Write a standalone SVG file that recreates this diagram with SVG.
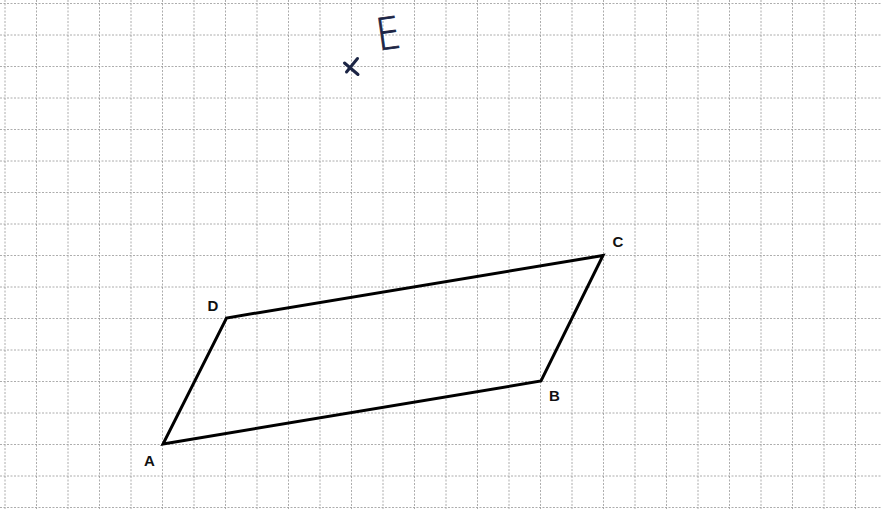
<svg xmlns="http://www.w3.org/2000/svg" width="882" height="509" viewBox="0 0 882 509">
<style>
.grid{fill:none;stroke:#8a8a8a;stroke-width:1;stroke-dasharray:2 1.5;opacity:0.7}
.shape{fill:none;stroke:#000;stroke-width:3;stroke-linejoin:miter}
.lbl{font-family:"Liberation Sans",Arial,sans-serif;font-weight:bold;font-size:15px;fill:#111;text-anchor:middle}
.hand{fill:none;stroke:#1b2444;stroke-width:3;stroke-linecap:round}
</style>
<rect width="882" height="509" fill="#fff"/>
<g id="grid">
<path class="grid" d="M5 0V509M36.5 0V509M68 0V509M99.5 0V509M131 0V509M162.5 0V509M194 0V509M225.5 0V509M257 0V509M288.5 0V509M320 0V509M351.5 0V509M383 0V509M414.5 0V509M446 0V509M477.5 0V509M509 0V509M540.5 0V509M572 0V509M603.5 0V509M635 0V509M666.5 0V509M698 0V509M729.5 0V509M761 0V509M792.5 0V509M824 0V509M855.5 0V509"/>
<path class="grid" d="M0 3.5H882M0 35H882M0 66.5H882M0 98H882M0 129.5H882M0 161H882M0 192.5H882M0 224H882M0 255.5H882M0 287H882M0 318.5H882M0 350H882M0 381.5H882M0 413H882M0 444.5H882M0 476H882M0 507.5H882"/>
</g>
<g id="connectors">
<polygon class="shape" points="163,444 541,381 603,255.5 226.5,318"/>
</g>
<g id="A"><text class="lbl" x="149.5" y="465.5">A</text></g>
<g id="B"><text class="lbl" x="554.5" y="401">B</text></g>
<g id="C"><text class="lbl" x="618" y="247">C</text></g>
<g id="D"><text class="lbl" x="213" y="310.5">D</text></g>
<g id="E">
<path class="hand" d="M344.5 63L358 74.5M357.5 58.5L346.5 72"/>
<text x="376" y="49" transform="rotate(-8 388 32)" font-family="'DejaVu Sans',sans-serif" font-weight="200" font-size="44" fill="#1b2444" stroke="#1b2444" stroke-width="0.9" textLength="24" lengthAdjust="spacingAndGlyphs">E</text>
</g>
</svg>
